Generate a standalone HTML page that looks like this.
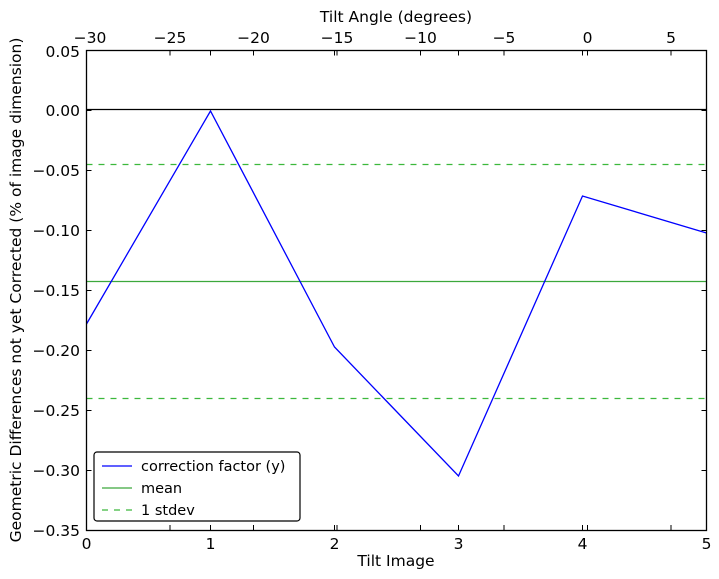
<!DOCTYPE html>
<html><head><style>body{margin:0;background:#fff}svg{display:block}</style></head><body>
<svg width="719" height="579" xmlns="http://www.w3.org/2000/svg" font-family="DejaVu Sans, Liberation Sans, sans-serif" font-size="15.5">
<rect width="719" height="579" fill="#fff"/>
<g stroke-width="1.3" fill="none">
<line x1="86.5" y1="109.5" x2="706.5" y2="109.5" stroke="#000"/>
<line x1="86.5" y1="164.5" x2="706.5" y2="164.5" stroke="#3cb83c" stroke-dasharray="6,6"/>
<line x1="86.5" y1="398.5" x2="706.5" y2="398.5" stroke="#3cb83c" stroke-dasharray="6,6"/>
<line x1="86.5" y1="281.5" x2="706.5" y2="281.5" stroke="#3ca83c"/>
<polyline stroke="#0000ff" points="86.5,324 210.5,111 334.5,347 458.5,476 582.5,196 706.5,233"/>
</g>
<rect x="86.5" y="50.5" width="620" height="480" fill="none" stroke="#000" stroke-width="1.3"/>
<g stroke="#000" stroke-width="1">
<path d="M210.5 530v-5M334.5 530v-5M458.5 530v-5M582.5 530v-5M210.5 50.5v5M334.5 50.5v5M458.5 50.5v5M582.5 50.5v5"/>
<path d="M86.5 110.5h5M86.5 170.5h5M86.5 230.5h5M86.5 290.5h5M86.5 350.5h5M86.5 410.5h5M86.5 470.5h5M706.5 110.5h-5M706.5 170.5h-5M706.5 230.5h-5M706.5 290.5h-5M706.5 350.5h-5M706.5 410.5h-5M706.5 470.5h-5"/>
<path d="M170 530v-5M253.5 530v-5M337 530v-5M420.5 530v-5M504 530v-5M587.5 530v-5M671 530v-5"/>
<path d="M170 50.5v5M253.5 50.5v5M337 50.5v5M420.5 50.5v5M504 50.5v5M587.5 50.5v5M671 50.5v5"/>
</g>
<g text-anchor="end">
<text x="80" y="57">0.05</text><text x="80" y="116">0.00</text><text x="80" y="176">−0.05</text><text x="80" y="236">−0.10</text><text x="80" y="296">−0.15</text><text x="80" y="356">−0.20</text><text x="80" y="416">−0.25</text><text x="80" y="476">−0.30</text><text x="80" y="536">−0.35</text>
</g>
<g text-anchor="middle">
<text x="86.5" y="549">0</text><text x="210.5" y="549">1</text><text x="334.5" y="549">2</text><text x="458.5" y="549">3</text><text x="582.5" y="549">4</text><text x="706.5" y="549">5</text>
<text x="90" y="43">−30</text><text x="170" y="43">−25</text><text x="253.5" y="43">−20</text><text x="337" y="43">−15</text><text x="420.5" y="43">−10</text><text x="504" y="43">−5</text><text x="587.5" y="43">0</text><text x="671" y="43">5</text>
<text x="396" y="566">Tilt Image</text>
<text x="396" y="22">Tilt Angle (degrees)</text>
<text transform="translate(21,290) rotate(-90)">Geometric Differences not yet Corrected (% of image dimension)</text>
</g>
<rect x="94" y="452" width="206" height="69" rx="3" fill="#fff" stroke="#000" stroke-width="1.2"/>
<line x1="102" y1="466" x2="132" y2="466" stroke="#0000ff" stroke-width="1.3"/>
<line x1="102" y1="488" x2="132" y2="488" stroke="#3ca83c" stroke-width="1.3"/>
<line x1="102" y1="510" x2="132" y2="510" stroke="#3cb83c" stroke-width="1.3" stroke-dasharray="6,6"/>
<g font-size="14.5"><text x="141" y="471">correction factor (y)</text><text x="141" y="493">mean</text><text x="141" y="515">1 stdev</text></g>
</svg>
</body></html>
